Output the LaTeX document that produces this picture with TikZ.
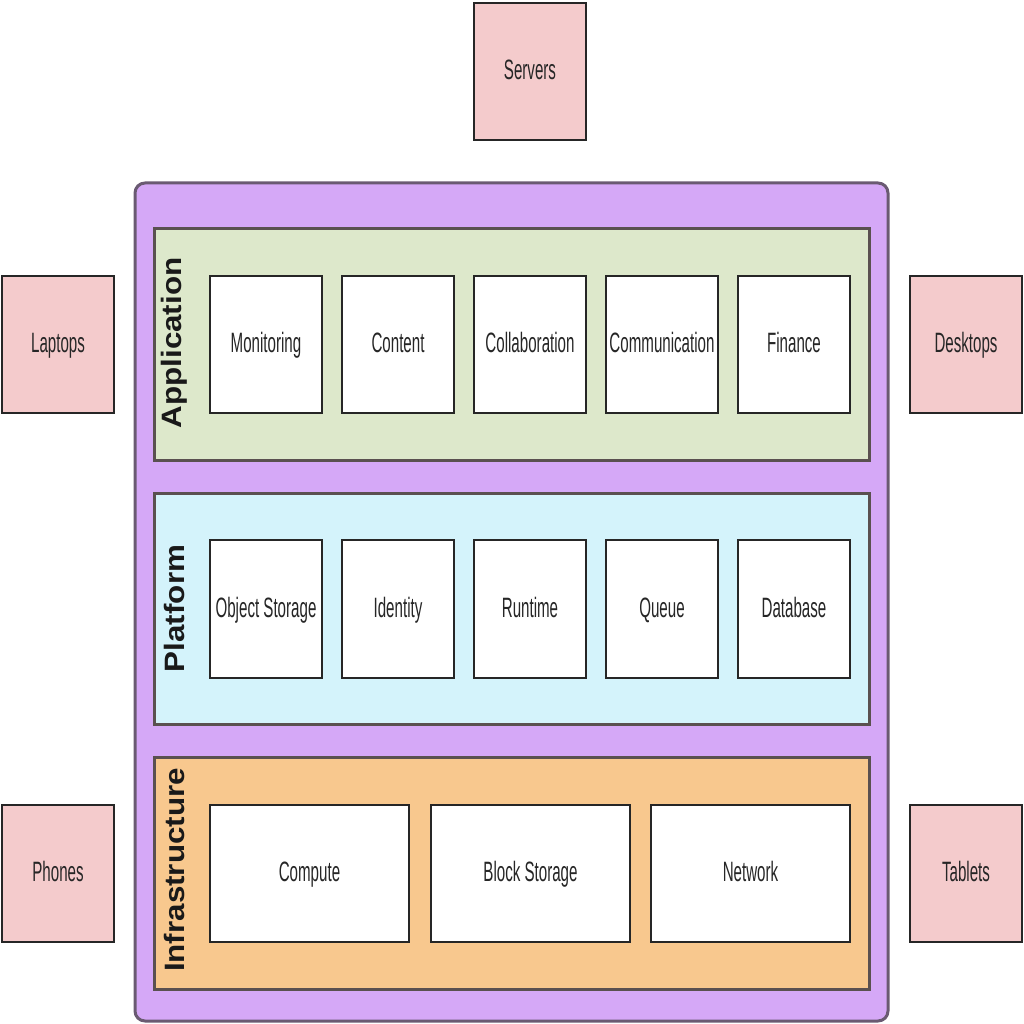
\documentclass[tikz,border=0pt]{standalone}
\usepackage{fontspec}
\setmainfont{Liberation Sans}
\newfontfamily\narrowfont[FakeStretch=0.54]{Liberation Sans}
\newfontfamily\widebold[FakeStretch=1.12]{Liberation Sans Bold}
\definecolor{cloudfill}{HTML}{D5A8F7}
\definecolor{cloudline}{HTML}{6A5A72}
\definecolor{appfill}{HTML}{DDE8CB}
\definecolor{platfill}{HTML}{D4F3FB}
\definecolor{infrafill}{HTML}{F8C88E}
\definecolor{devfill}{HTML}{F4CBCC}
\definecolor{panelline}{HTML}{5A5050}
\begin{document}
\begin{tikzpicture}[
		x=1pt, y=-1pt,
		every node/.style={inner sep=0pt, outer sep=0pt},
		device/.style={draw=black!85, line width=2pt, fill=devfill, minimum width=112pt, minimum height=137pt, font=\narrowfont\fontsize{28}{32}\selectfont, text=black!85, text height=22pt, text depth=6pt},
		service/.style={draw=black!85, line width=2pt, fill=white, minimum width=112pt, minimum height=137pt, font=\narrowfont\fontsize{28}{32}\selectfont, text=black!85, text height=22pt, text depth=6pt},
		wideservice/.style={service, minimum width=199pt},
		panel/.style={draw=panelline, line width=3pt, minimum width=715pt, minimum height=231pt},
		layer/.style={rotate=90, font=\widebold\fontsize{28}{32}\selectfont, text=black!90},
		]
		\useasboundingbox (0,0) rectangle (1024,1024);
		% devices round the cloud
		\node [device] (servers) at (530,71.5) {Servers};
		\node [device] (laptops) at (58,344.5) {Laptops};
		\node [device] (desktops) at (966,344.5) {Desktops};
		\node [device] (phones) at (58,873.5) {Phones};
		\node [device] (tablets) at (966,873.5) {Tablets};
		% cloud
		\node [draw=cloudline, line width=3pt, fill=cloudfill, rounded corners=10pt, minimum width=753pt, minimum height=838pt] (cloud) at (511.5,602) {};
		% application layer
		\node [panel, fill=appfill] (app) at (511.5,344.5) {};
		\node [layer] (applbl) at (174,343) {Application};
		\node [service] (monitoring) at (266,344.5) {Monitoring};
		\node [service] (content) at (398,344.5) {Content};
		\node [service] (collab) at (530,344.5) {Collaboration};
		\node [service] (comm) at (662,344.5) {Communication};
		\node [service] (finance) at (794,344.5) {Finance};
		% platform layer
		\node [panel, fill=platfill] (plat) at (511.5,608.5) {};
		\node [layer] (platlbl) at (174,608.5) {Platform};
		\node [service, minimum height=138pt] (objstore) at (266,609) {Object Storage};
		\node [service, minimum height=138pt] (identity) at (398,609) {Identity};
		\node [service, minimum height=138pt] (runtime) at (530,609) {Runtime};
		\node [service, minimum height=138pt] (queue) at (662,609) {Queue};
		\node [service, minimum height=138pt] (database) at (794,609) {Database};
		% infrastructure layer
		\node [panel, fill=infrafill, minimum height=232pt] (infra) at (511.5,873) {};
		\node [layer] (infralbl) at (174,870) {Infrastructure};
		\node [wideservice] (compute) at (309.5,873.5) {Compute};
		\node [wideservice] (blockstore) at (530.5,873.5) {Block Storage};
		\node [wideservice] (network) at (750.5,873.5) {Network};
	\end{tikzpicture}
\end{document}
